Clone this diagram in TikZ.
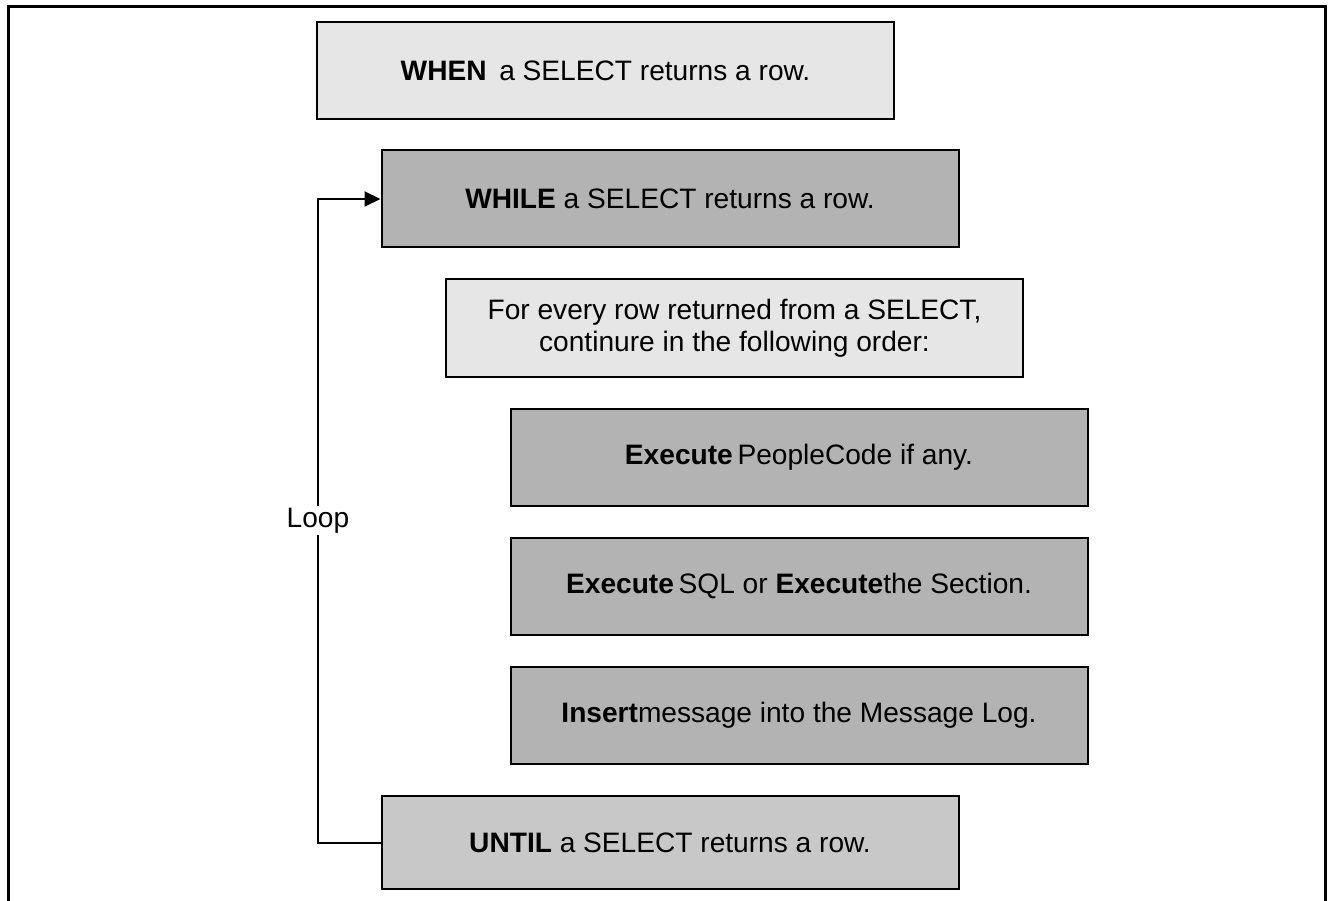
\documentclass[tikz,border=0pt]{standalone}
\usepackage{fontspec}
\setmainfont{Liberation Sans}
\usetikzlibrary{arrows.meta}
\definecolor{boxlight}{RGB}{230,230,230}
\definecolor{boxdark}{RGB}{179,179,179}
\definecolor{boxmid}{RGB}{200,200,200}
\tikzset{
  stepbox/.style={draw=black, line width=0.04cm, minimum width=11.54cm,
    minimum height=1.94cm, inner sep=0pt, align=center},
  looparrow/.style={line width=0.04cm, -{Triangle[length=0.32cm,width=0.3cm]}}
}
\begin{document}
\begin{tikzpicture}
        \useasboundingbox (0.000000,0.000000) rectangle (26.560000,-18.020000);
        {\fontsize{16}{18.5}\selectfont

        % Open frame round the diagram
        \draw [line width=0.06cm] (0.180000,-18.020000) -- (0.180000,-0.140000) -- (26.500000,-0.140000) -- (26.500000,-18.020000);%

        % Boxes
        \node [stepbox, fill=boxlight] (when) at (12.110000,-1.410000) {\textbf{WHEN}\hspace{0.45em}a SELECT returns a row.};%
        \node [stepbox, fill=boxdark] (while) at (13.400000,-3.980000) {\textbf{WHILE} a SELECT returns a row.};%
        \node [stepbox, fill=boxlight] (forrow) at (14.690000,-6.560000) {For every row returned from a SELECT,\\continure in the following order:};%
        \node [stepbox, fill=boxdark] (peoplecode) at (15.980000,-9.140000) {\textbf{Execute}\,PeopleCode if any.};%
        \node [stepbox, fill=boxdark] (sql) at (15.980000,-11.720000) {\textbf{Execute}\,SQL or \textbf{Execute}the Section.};%
        \node [stepbox, fill=boxdark] (insert) at (15.980000,-14.300000) {\textbf{Insert}message into the Message Log.};%
        \node [stepbox, fill=boxmid, minimum height=1.86cm] (until) at (13.400000,-16.850000) {\textbf{UNTIL} a SELECT returns a row.};%

        % Loop back from UNTIL to WHILE
        \coordinate (loopx) at (6.360000,0.000000);%
        \draw [looparrow] (until.west) -- (until.west -| loopx) -- node [fill=white, inner sep=1pt] (looplabel) {Loop} (while.west -| loopx) -- (while.west);%
        }
    \end{tikzpicture}
\end{document}
